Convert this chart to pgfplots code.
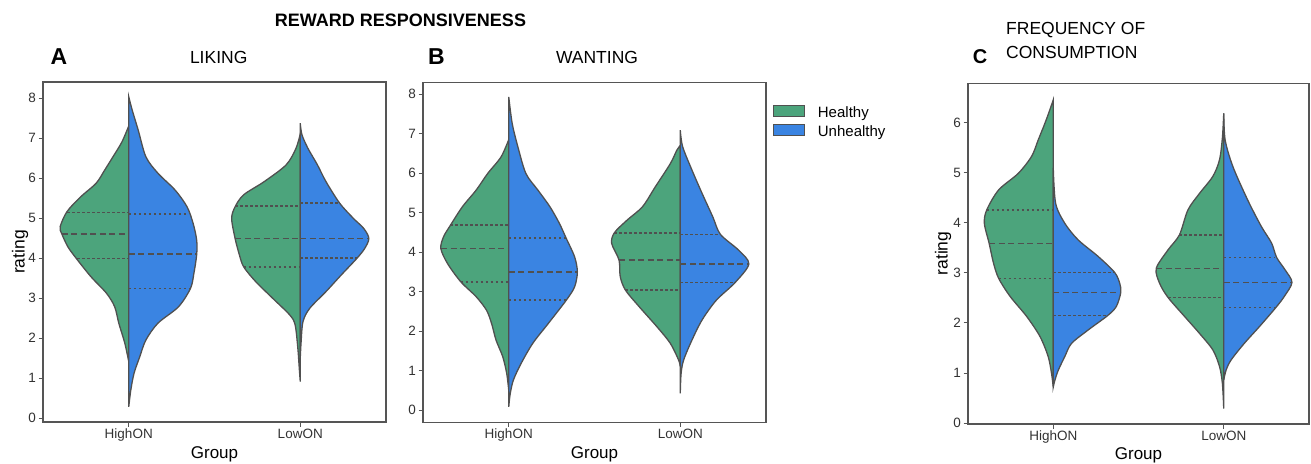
\documentclass[border=0pt]{standalone}
\usepackage{pgfplots}
\usepackage{pgfplotstable}
\pgfplotsset{compat=1.18}
\usepackage{fontspec}
\setmainfont{Liberation Sans}

\definecolor{hgreen}{RGB}{76,164,124}
\definecolor{ublue}{RGB}{58,132,226}
\definecolor{vline}{RGB}{80,80,80}
\definecolor{frame}{RGB}{85,85,85}
\definecolor{ticktext}{RGB}{50,50,50}

% Half-violin outlines: rating value v and half-width w (in group units)
% ---- Liking ----
\pgfplotstableread{
v w
7.30 0
6.90 0.04
6.53 0.092
6.20 0.14
5.87 0.19
5.53 0.28
5.16 0.36
4.78 0.40
4.60 0.39
4.28 0.355
3.99 0.306
3.53 0.22
3.12 0.13
2.78 0.082
2.37 0.058
1.87 0.023
1.41 0
}\LikHighH
\pgfplotstableread{
v w
8.03 0
7.70 0.02
7.20 0.055
6.53 0.10
6.12 0.17
5.70 0.27
5.28 0.34
4.87 0.375
4.45 0.396
4.08 0.396
3.62 0.38
3.24 0.36
2.78 0.29
2.37 0.17
1.95 0.10
1.53 0.064
1.12 0.031
0.70 0.012
0.28 0
}\LikHighU
\pgfplotstableread{
v w
7.10 0
6.74 0.025
6.33 0.082
5.91 0.21
5.58 0.33
5.28 0.38
4.99 0.40
4.49 0.38
4.08 0.355
3.78 0.33
3.41 0.26
2.99 0.16
2.58 0.062
2.33 0.03
1.74 0.014
1.20 0.005
0.91 0
}\LikLowH
\pgfplotstableread{
v w
7.37 0
7.08 0.01
6.74 0.045
6.33 0.10
5.91 0.15
5.37 0.23
4.99 0.31
4.74 0.37
4.49 0.40
4.24 0.376
3.99 0.33
3.58 0.24
3.16 0.15
2.74 0.055
2.41 0.016
1.90 0.005
1.50 0
}\LikLowU
% ---- Wanting ----
\pgfplotstableread{
v w
6.85 0
6.41 0.045
5.99 0.123
5.57 0.19
5.15 0.27
4.68 0.34
4.39 0.38
4.09 0.396
3.71 0.357
3.25 0.28
2.87 0.19
2.53 0.13
2.19 0.10
1.77 0.074
1.35 0.035
0.93 0.012
0.50 0
}\WanHighH
\pgfplotstableread{
v w
7.93 0
7.26 0.02
6.67 0.053
5.99 0.10
5.57 0.17
5.15 0.24
4.73 0.295
4.35 0.335
3.88 0.384
3.50 0.40
3.12 0.384
2.78 0.335
2.19 0.23
1.69 0.14
1.18 0.072
0.76 0.027
0.40 0.008
0.08 0
}\WanHighU
\pgfplotstableread{
v w
6.70 0
6.58 0.02
6.24 0.058
5.65 0.146
5.15 0.22
4.81 0.31
4.49 0.384
4.22 0.40
3.80 0.357
3.38 0.35
3.04 0.32
2.62 0.24
2.11 0.136
1.69 0.058
1.27 0.01
1.10 0
}\WanLowH
\pgfplotstableread{
v w
7.09 0
6.67 0.014
6.08 0.068
5.49 0.127
4.89 0.19
4.45 0.234
4.05 0.34
3.70 0.40
3.23 0.32
2.78 0.21
2.28 0.127
1.77 0.068
1.27 0.02
0.93 0.005
0.42 0
}\WanLowU
% ---- Frequency of consumption ----
\pgfplotstableread{
v w
6.46 0
6.26 0.02
5.99 0.049
5.66 0.088
5.33 0.127
4.99 0.205
4.66 0.32
4.26 0.39
3.99 0.404
3.59 0.376
3.19 0.35
2.89 0.32
2.53 0.253
2.13 0.156
1.73 0.078
1.33 0.03
0.99 0.01
0.72 0
}\FreHighH
\pgfplotstableread{
v w
5.10 0
4.39 0.014
3.99 0.068
3.66 0.146
3.33 0.263
3.01 0.36
2.79 0.39
2.61 0.396
2.33 0.37
2.15 0.32
1.86 0.205
1.59 0.107
1.33 0.068
1.06 0.03
0.86 0.01
0.72 0
}\FreHighU
\pgfplotstableread{
v w
6.19 0
5.70 0.008
5.26 0.025
4.93 0.064
4.59 0.142
4.26 0.21
3.76 0.26
3.46 0.327
3.09 0.396
2.79 0.376
2.51 0.327
2.13 0.23
1.79 0.142
1.46 0.064
1.13 0.025
0.79 0.008
0.29 0
}\FreLowH
\pgfplotstableread{
v w
6.19 0
5.66 0.008
5.13 0.053
4.46 0.14
3.93 0.22
3.60 0.28
3.31 0.31
3.06 0.36
2.81 0.40
2.53 0.355
2.31 0.306
1.93 0.21
1.59 0.12
1.26 0.043
1.06 0.014
0.86 0
}\FreLowU

\pgfplotsset{
  violinpanel/.style={
    scale only axis,
    xmin=0.5, xmax=2.5,
    xtick={1,2}, xticklabels={HighON,LowON},
    ytick distance=1,
    xtick pos=bottom, ytick pos=left,
    tick align=outside, major tick length=4.5pt,
    tick style={frame, line width=0.9pt},
    axis line style={frame, line width=1.5pt},
    /pgf/number format/assume math mode=true,
    yticklabel style={font=\fontsize{13.5}{15}\selectfont, text=ticktext, inner sep=2.5pt},
    xticklabel style={font=\fontsize{13.5}{15}\selectfont, text=ticktext, inner sep=2pt},
    clip=false,
  },
  halfH/.style={draw=vline, line width=1.3pt, fill=hgreen, smooth, tension=0.5, forget plot},
  halfU/.style={draw=vline, line width=1.3pt, fill=ublue, smooth, tension=0.5, forget plot},
  med/.style={vline, line width=1.6pt, dash pattern=on 6pt off 3.5pt, forget plot},
  qrt/.style={vline, line width=1.6pt, dash pattern=on 2.5pt off 2.5pt, forget plot},
}

\begin{document}
\begin{tikzpicture}[x=1pt, y=1pt]
\useasboundingbox (0,0) rectangle (1311,463);

% ---------------- A: Liking ----------------
\begin{axis}[violinpanel, at={(43pt,41pt)}, anchor=south west,
  width=343pt, height=340pt, ymin=-0.1, ymax=8.4]
  \addplot[halfH] table[x expr={1-\thisrow{w}}, y=v] {\LikHighH} -- cycle;
  \addplot[halfU] table[x expr={1+\thisrow{w}}, y=v] {\LikHighU} -- cycle;
  \addplot[halfH] table[x expr={2-\thisrow{w}}, y=v] {\LikLowH} -- cycle;
  \addplot[halfU] table[x expr={2+\thisrow{w}}, y=v] {\LikLowU} -- cycle;
  % quartiles and medians
  \addplot[qrt] coordinates {(0.64,5.14) (1,5.14)};
  \addplot[med] coordinates {(0.61,4.60) (1,4.60)};
  \addplot[qrt] coordinates {(0.70,3.99) (1,3.99)};
  \addplot[qrt] coordinates {(1,5.10) (1.34,5.10)};
  \addplot[med] coordinates {(1,4.10) (1.395,4.10)};
  \addplot[qrt] coordinates {(1,3.24) (1.36,3.24)};
  \addplot[qrt] coordinates {(1.62,5.30) (2,5.30)};
  \addplot[med] coordinates {(1.62,4.49) (2,4.49)};
  \addplot[qrt] coordinates {(1.67,3.78) (2,3.78)};
  \addplot[qrt] coordinates {(2,5.38) (2.23,5.38)};
  \addplot[med] coordinates {(2,4.49) (2.40,4.49)};
  \addplot[qrt] coordinates {(2,4.00) (2.33,4.00)};
\end{axis}

% ---------------- B: Wanting ----------------
\begin{axis}[violinpanel, at={(423pt,40.7pt)}, anchor=south west,
  width=343pt, height=339.6pt, ymin=-0.31, ymax=8.29,
  legend style={at={(rel axis cs:1,1)}, anchor=north west, xshift=7pt, yshift=-22pt,
    draw=none, fill=none, inner sep=0pt,
    font=\fontsize{15}{17}\selectfont, row sep=4pt,
    nodes={inner sep=1pt, text depth=0.2em},
    /tikz/every odd column/.append style={column sep=12pt}},
  legend cell align=left,
  legend image code/.code={\draw[#1, draw=vline, line width=0.7pt] (0pt,-3.5pt) rectangle (31pt,7.5pt);}]
  \addlegendimage{fill=hgreen}
  \addlegendentry{Healthy}
  \addlegendimage{fill=ublue}
  \addlegendentry{Unhealthy}
  \addplot[halfH] table[x expr={1-\thisrow{w}}, y=v] {\WanHighH} -- cycle;
  \addplot[halfU] table[x expr={1+\thisrow{w}}, y=v] {\WanHighU} -- cycle;
  \addplot[halfH] table[x expr={2-\thisrow{w}}, y=v] {\WanLowH} -- cycle;
  \addplot[halfU] table[x expr={2+\thisrow{w}}, y=v] {\WanLowU} -- cycle;
  \addplot[qrt] coordinates {(0.66,4.68) (1,4.68)};
  \addplot[med] coordinates {(0.605,4.09) (1,4.09)};
  \addplot[qrt] coordinates {(0.72,3.24) (1,3.24)};
  \addplot[qrt] coordinates {(1,4.35) (1.335,4.35)};
  \addplot[med] coordinates {(1,3.50) (1.40,3.50)};
  \addplot[qrt] coordinates {(1,2.78) (1.335,2.78)};
  \addplot[qrt] coordinates {(1.616,4.49) (2,4.49)};
  \addplot[med] coordinates {(1.643,3.80) (2,3.80)};
  \addplot[qrt] coordinates {(1.68,3.04) (2,3.04)};
  \addplot[qrt] coordinates {(2,4.45) (2.234,4.45)};
  \addplot[med] coordinates {(2,3.70) (2.40,3.70)};
  \addplot[qrt] coordinates {(2,3.23) (2.32,3.23)};
\end{axis}

% ---------------- C: Frequency of consumption ----------------
\begin{axis}[violinpanel, at={(968pt,39pt)}, anchor=south west,
  width=341pt, height=340.7pt, ymin=-0.02, ymax=6.79]
  \addplot[halfH] table[x expr={1-\thisrow{w}}, y=v] {\FreHighH} -- cycle;
  \addplot[halfU] table[x expr={1+\thisrow{w}}, y=v] {\FreHighU} -- cycle;
  \addplot[halfH] table[x expr={2-\thisrow{w}}, y=v] {\FreLowH} -- cycle;
  \addplot[halfU] table[x expr={2+\thisrow{w}}, y=v] {\FreLowU} -- cycle;
  \addplot[qrt] coordinates {(0.61,4.26) (1,4.26)};
  \addplot[med] coordinates {(0.624,3.59) (1,3.59)};
  \addplot[qrt] coordinates {(0.68,2.89) (1,2.89)};
  \addplot[qrt] coordinates {(1,3.01) (1.36,3.01)};
  \addplot[med] coordinates {(1,2.61) (1.396,2.61)};
  \addplot[qrt] coordinates {(1,2.15) (1.32,2.15)};
  \addplot[qrt] coordinates {(1.74,3.76) (2,3.76)};
  \addplot[med] coordinates {(1.604,3.09) (2,3.09)};
  \addplot[qrt] coordinates {(1.673,2.51) (2,2.51)};
  \addplot[qrt] coordinates {(2,3.31) (2.30,3.31)};
  \addplot[med] coordinates {(2,2.81) (2.40,2.81)};
  \addplot[qrt] coordinates {(2,2.31) (2.306,2.31)};
\end{axis}

% ---------------- titles and axis labels ----------------
\node[anchor=base, font=\fontsize{18}{20}\selectfont\bfseries] at (400.5,436.3) {REWARD RESPONSIVENESS};
\node[anchor=base west, inner sep=0pt, font=\fontsize{23}{25}\selectfont\bfseries] at (50.5,398.7) {A};
\node[anchor=base, inner sep=0pt, font=\fontsize{17.5}{19}\selectfont] at (218.7,399) {LIKING};
\node[anchor=base west, inner sep=0pt, font=\fontsize{23}{25}\selectfont\bfseries] at (428,398.7) {B};
\node[anchor=base, inner sep=0pt, font=\fontsize{17.5}{19}\selectfont] at (597,399) {WANTING};
\node[anchor=base west, inner sep=0pt, font=\fontsize{20}{22}\selectfont\bfseries] at (972.7,399.7) {C};
\node[anchor=base west, inner sep=0pt, font=\fontsize{17.5}{19}\selectfont] at (1006,428) {FREQUENCY OF};
\node[anchor=base west, inner sep=0pt, font=\fontsize{17.5}{19}\selectfont] at (1006,404.7) {CONSUMPTION};

\node[rotate=90, inner sep=0pt, font=\fontsize{17.5}{19}\selectfont] at (20,211) {rating};
\node[rotate=90, inner sep=0pt, font=\fontsize{17.5}{19}\selectfont] at (943,209.5) {rating};
\node[anchor=base, inner sep=0pt, font=\fontsize{17}{19}\selectfont] at (214.5,4.7) {Group};
\node[anchor=base, inner sep=0pt, font=\fontsize{17}{19}\selectfont] at (594.5,4.7) {Group};
\node[anchor=base, inner sep=0pt, font=\fontsize{17}{19}\selectfont] at (1138.5,3.7) {Group};
\end{tikzpicture}
\end{document}
